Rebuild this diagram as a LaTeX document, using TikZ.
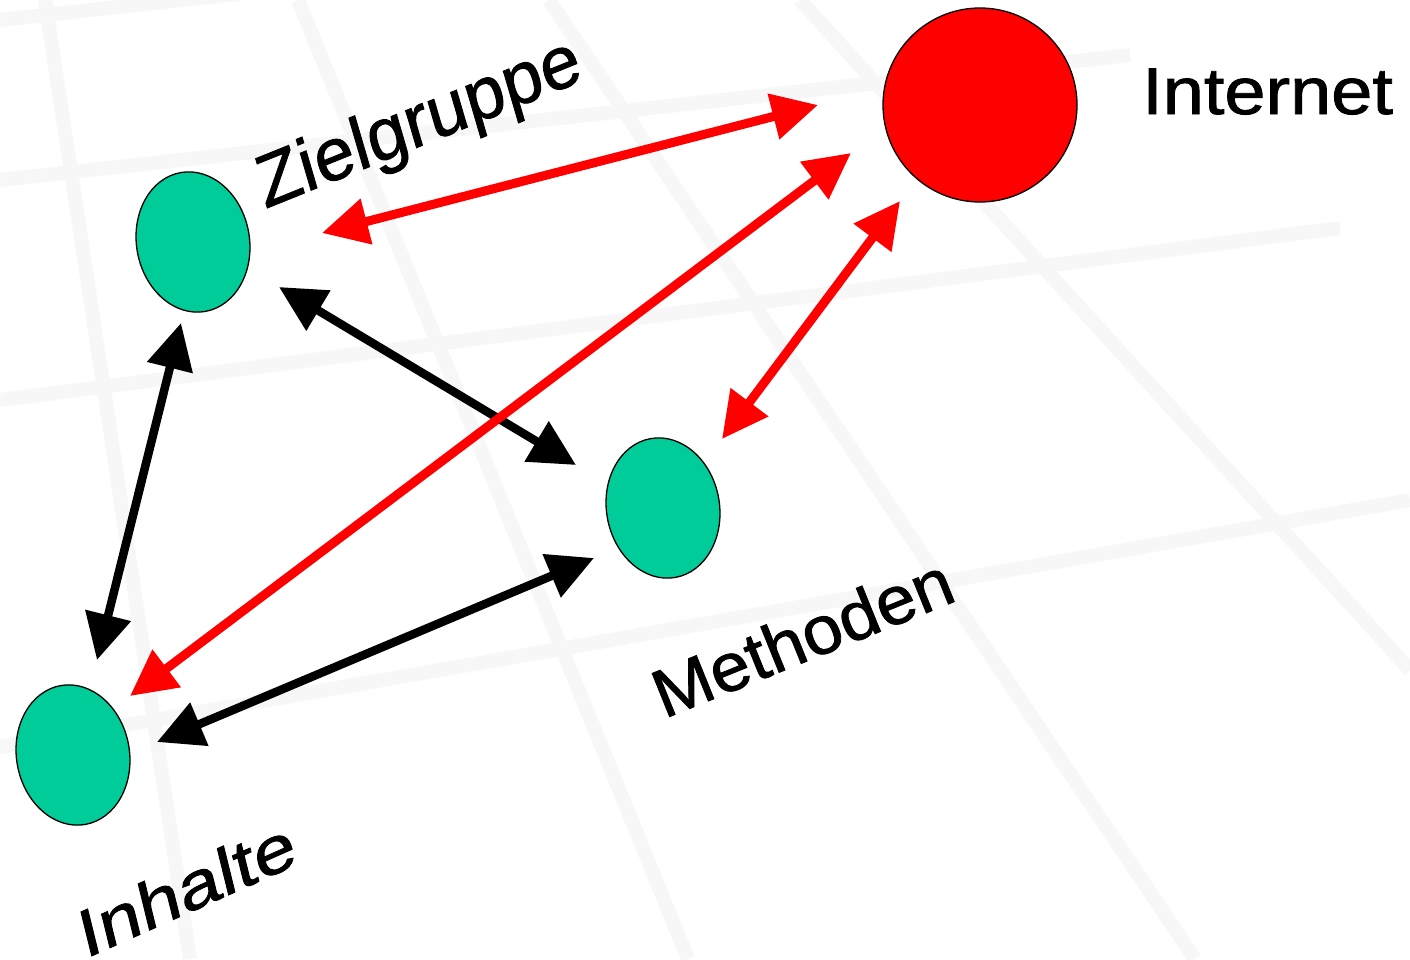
\documentclass[tikz,border=0pt]{standalone}
\usepackage{fontspec}
\setmainfont{Liberation Sans}
\newfontfamily\lblfont{Liberation Sans}[FakeBold=1.2]
\usetikzlibrary{arrows.meta,shapes.geometric}
\definecolor{gridgray}{RGB}{247,247,247}
\definecolor{blobgreen}{RGB}{0,204,153}
\definecolor{netred}{RGB}{255,0,0}
\tikzset{
  gridline/.style={draw=gridgray, line width=14pt},
  blob/.style={ellipse, draw=black, line width=1.3pt, fill=blobgreen, minimum width=113pt, minimum height=141pt, inner sep=0pt, rotate=10},
  netblob/.style={circle, draw=black, line width=1.3pt, fill=netred, minimum size=194pt, inner sep=0pt},
  redlink/.style={draw=netred, line width=9pt, {Triangle[length=46pt,width=45pt]}-{Triangle[length=46pt,width=45pt]}},
  blacklink/.style={draw=black, line width=8.5pt, {Triangle[length=46pt,width=45pt]}-{Triangle[length=46pt,width=45pt]}},
  lbl/.style={inner sep=0pt, anchor=base west, text=black}
}
\begin{document}
\begin{tikzpicture}[x=1pt,y=-1pt]
\useasboundingbox (0,0) rectangle (1410,959);
\fill[white] (0,0) rectangle (1410,959);
% background perspective grid
\begin{scope}
\clip (0,0) rectangle (1410,959);
\draw[gridline] (0,20) -- (300,-13);
\draw[gridline] (0,180) -- (1130,55);
\draw[gridline] (0,400) -- (1340,228);
\draw[gridline] (0,747) -- (1410,500);
\draw[gridline] (45,0) -- (190,959);
\draw[gridline] (298,0) -- (688,959);
\draw[gridline] (549,0) -- (1195,959);
\draw[gridline] (800,0) -- (1410,670);
\end{scope}
% nodes
\node[netblob] (net) at (980,105) {};
\node[blob] (ziel) at (193,242) {};
\node[blob] (meth) at (663,508) {};
\node[blob] (inh) at (73,755) {};
% labels
\node[lbl, font=\lblfont\fontsize{66}{70}\selectfont, xscale=1.12] (tnet) at (1142,114) {Internet};
\node[lbl, font=\lblfont\fontsize{73}{76}\selectfont, rotate=22, xslant=0.1] (tziel) at (265,209) {Zielgruppe};
\node[lbl, font=\lblfont\fontsize{68}{72}\selectfont, rotate=22, xscale=1.05] (tmeth) at (664,719) {Methoden};
\node[lbl, font=\lblfont\fontsize{65}{68}\selectfont, rotate=24, xslant=0.18, xscale=1.2] (tinh) at (85,959) {Inhalte};
% arrow end points
\coordinate (r1a) at (322,233);
\coordinate (r1b) at (818,105);
\coordinate (r2a) at (851,153);
\coordinate (r2b) at (130,696);
\coordinate (r3a) at (900,201);
\coordinate (r3b) at (722,439);
\coordinate (b4a) at (181,323);
\coordinate (b4b) at (97,660);
\coordinate (b5a) at (279,287);
\coordinate (b5b) at (576,465);
\coordinate (b6a) at (594,558);
\coordinate (b6b) at (157,742);
% connectors
\draw[blacklink] (b5a) -- (b5b);
\draw[redlink] (r2a) -- (r2b);
\draw[redlink] (r1a) -- (r1b);
\draw[redlink] (r3a) -- (r3b);
\draw[blacklink] (b4a) -- (b4b);
\draw[blacklink] (b6a) -- (b6b);
\end{tikzpicture}
\end{document}
